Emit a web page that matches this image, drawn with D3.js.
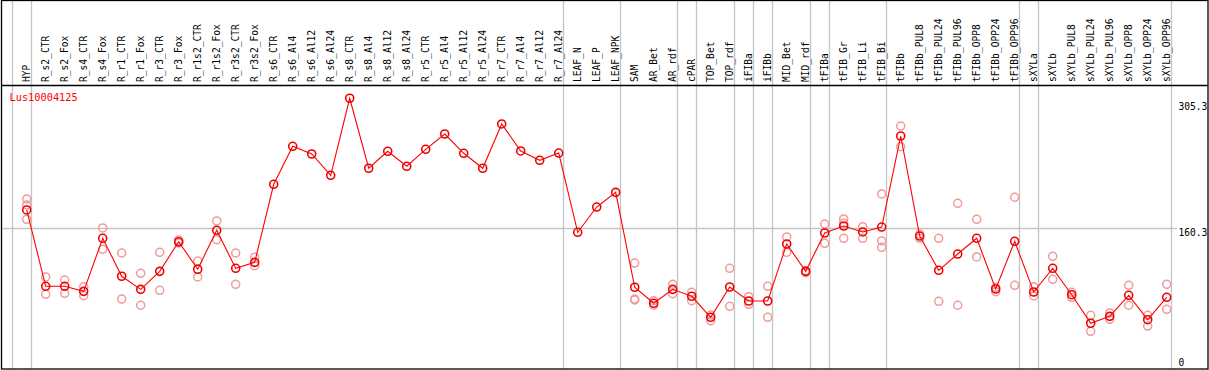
<!DOCTYPE html>
<html><head><meta charset="utf-8">
<script src="https://cdn.jsdelivr.net/npm/d3@7/dist/d3.min.js"></script>
<style>body{margin:0;background:#fff}svg{display:block}text{font-family:"DejaVu Sans Mono",monospace}</style>
</head><body><svg id="c" width="1209" height="370"></svg>
<script>
const categories = ["HYP","R_s2_CTR","R_s2_Fox","R_s4_CTR","R_s4_Fox","R_r1_CTR","R_r1_Fox","R_r3_CTR","R_r3_Fox","R_r1s2_CTR","R_r1s2_Fox","R_r3s2_CTR","R_r3s2_Fox","R_s6_CTR","R_s6_Al4","R_s6_Al12","R_s6_Al24","R_s8_CTR","R_s8_Al4","R_s8_Al12","R_s8_Al24","R_r5_CTR","R_r5_Al4","R_r5_Al12","R_r5_Al24","R_r7_CTR","R_r7_Al4","R_r7_Al12","R_r7_Al24","LEAF_N","LEAF_P","LEAF_NPK","SAM","AR_Bet","AR_rdf","cPAR","TOP_Bet","TOP_rdf","iFIBa","iFIBb","MID_Bet","MID_rdf","tFIBa","tFIB_Gr","tFIB_Li","tFIB_Bi","tFIBb","tFIBb_PUL8","tFIBb_PUL24","tFIBb_PUL96","tFIBb_OPP8","tFIBb_OPP24","tFIBb_OPP96","sXYLa","sXYLb","sXYLb_PUL8","sXYLb_PUL24","sXYLb_PUL96","sXYLb_OPP8","sXYLb_OPP24","sXYLb_OPP96"];
const means = [181.1,92.9,92.9,87.1,148.4,104.5,89.4,110.2,144.4,112.6,157.6,113.7,120.6,210.8,254.7,245.8,221.2,310.2,229.3,248.9,231.6,251.2,268.9,246.6,229.3,280.5,249.3,238.5,246.9,155.3,184.5,201.5,91.8,73.3,89.4,81.4,57.1,92.1,75.9,75.9,141.8,110.2,154.5,162.6,155.7,161.4,266.6,151.0,111.4,130.2,148.4,89.8,144.9,86.3,113.7,83.2,50.2,58.2,82.5,54.3,80.2];
const replicates = [[193.8,186.9,170.3],[103.7,83.7],[100.2,84.8],[92.4,82.0],[160.4,135.7],[131.4,78.2],[107.9,71.0],[132.2,88.3],[146.4,142.9],[122.1,103.7],[168.4,146.8],[131.4,95.2],[126.4,116.7],
[],[],[],[],[],[],[],[],[],[],[],[],[],[],[],[],[],[],[],
[119.8,78.2,77.1],[76.3,71.0],[95.2,84.4],[86.0,76.3],[59.7,53.2],[113.7,69.8],[80.9,72.1],[92.9,57.1],[149.9,132.2],[110.9,108.6],[164.9,142.6],[170.7,165.8,148.4],[161.8,148.4],[199.6,145.3,138.0],[278.1,254.2],[153.3,148.4],[148.4,75.6],[188.8,71.0],[170.3,126.8],[91.8,86.7],[195.8,94.1],[92.4,81.7],[127.6,101.0],[86.0,80.2],[59.4,40.9],[62.1,54.8],[94.1,71.0],[59.4,47.0],[95.2,66.3]];
const groupEnds = [-1,0,28,31,34,35,37,38,39,41,42,45,52,53,60];
const yTicks = [0,160.3,305.3];
const geneName = "Lus10004125";

const svg = d3.select("#c");
const W = 1209, H = 370;
const x = d3.scaleLinear().domain([0, categories.length-1]).range([26.7, 1166.7]);
const y = d3.scaleLinear().domain([0, 305.3]).range([366.7, 102.5]);
const grey = "#c4c4c4";

// group separators
svg.append("g").selectAll("line").data(groupEnds).join("line")
  .attr("x1", d => Math.round(x(d)+4)+0.5).attr("x2", d => Math.round(x(d)+4)+0.5)
  .attr("y1", 0).attr("y2", 369).attr("stroke", grey).attr("stroke-width", 1.3);

// horizontal grid at middle tick
svg.append("line").attr("x1", 1).attr("x2", 1177)
  .attr("y1", Math.round(y(yTicks[1]))+0.5).attr("y2", Math.round(y(yTicks[1]))+0.5)
  .attr("stroke", grey).attr("stroke-width", 1.3);

// frame
svg.append("rect").attr("x", 1.5).attr("y", 0.5).attr("width", 1206.5).attr("height", 368.5)
  .attr("fill", "none").attr("stroke", "#000").attr("stroke-width", 1.3);
svg.append("line").attr("x1", 1).attr("x2", 1208).attr("y1", 85.5).attr("y2", 85.5)
  .attr("stroke", "#000").attr("stroke-width", 1.3);

// header labels
svg.append("g").selectAll("text").data(categories).join("text")
  .attr("transform", (d,i) => `translate(${x(i)+3.6},82) rotate(-90)`)
  .attr("font-size", 9.6).attr("fill", "#000").text(d => d);

// y tick labels
svg.append("g").selectAll("text").data(yTicks).join("text")
  .attr("x", 1178.5)
  .attr("y", d => d === 0 ? 366 : y(d) + 7.6)
  .attr("font-size", 9.6).attr("fill", "#000").text(d => d);

// gene label
svg.append("text").attr("x", 9.5).attr("y", 101).attr("font-size", 10.3)
  .attr("fill", "#ff0000").text(geneName);

// replicates
const repPts = [];
replicates.forEach((arr,i) => arr.forEach(v => repPts.push({i, v})));
svg.append("g").selectAll("circle").data(repPts).join("circle")
  .attr("cx", d => x(d.i)).attr("cy", d => y(d.v)).attr("r", 4)
  .attr("fill", "none").attr("stroke", "#f09a9a").attr("stroke-width", 1.5);

// mean line
svg.append("path").datum(means)
  .attr("d", d3.line().x((d,i) => x(i)).y(d => y(d)))
  .attr("fill", "none").attr("stroke", "#ff0000").attr("stroke-width", 1.1);

// mean markers
svg.append("g").selectAll("circle").data(means).join("circle")
  .attr("cx", (d,i) => x(i)).attr("cy", d => y(d)).attr("r", 4)
  .attr("fill", "none").attr("stroke", "#ee0000").attr("stroke-width", 1.6);
</script></body></html>
